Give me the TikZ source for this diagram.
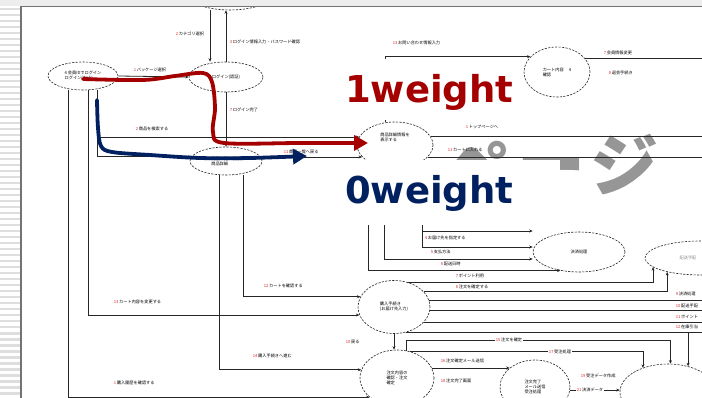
\documentclass[tikz,border=0pt]{standalone}
\usepackage{fontspec}
\usetikzlibrary{shapes.geometric,arrows.meta}
\newfontfamily\jp{Noto Sans CJK JP}
\newfontfamily\wtf{DejaVu Sans}
\definecolor{redc}{RGB}{165,0,0}
\definecolor{bluec}{RGB}{0,32,96}
\definecolor{numc}{RGB}{225,40,40}
\definecolor{wmc}{RGB}{150,150,150}
\newcommand{\nm}[1]{\textcolor{numc}{#1}\,}
\tikzset{
 ell/.style={ellipse, draw=black!85, dash pattern=on 2.2pt off 1.3pt, line width=0.6pt, fill=white, inner sep=0pt, font=\jp\fontsize{4.2}{5}\selectfont, align=left},
 ln/.style={draw=black!85, line width=0.8pt},
 ar/.style={ln, -{Stealth[length=3.5pt,width=3pt]}},
 lbl/.style={anchor=west, inner sep=0.6pt, font=\jp\fontsize{4.2}{5}\selectfont},
 lblw/.style={lbl, fill=white},
 heavy/.style={line width=3.8pt, line cap=round, line join=round},
 bigtip/.style={-{Triangle[length=14pt,width=15pt]}},
 wt/.style={anchor=base west, inner sep=0pt, font=\wtf\bfseries\fontsize{37}{40}\selectfont},
 wm/.style={anchor=base west, inner sep=0pt, text=wmc, font=\jp\bfseries\fontsize{68}{70}\selectfont},
}
\begin{document}
\begin{tikzpicture}[x=1pt,y=-1pt]
\useasboundingbox (0,0) rectangle (702,398);
\fill[white] (0,0) rectangle (702,398);
\fill[black!7] (0,0) rectangle (702,6);
\foreach \k in {0,...,65} { \fill[black!13] (0,{8+6*\k}) rectangle (20,{10.5+6*\k}); }
% watermark
\node[wm] (wm1) at (443,193) {ペ};
\node[wm] (wm2) at (517,191) {ー};
\node[wm] (wm3) at (590,191) {ジ};
\begin{scope}
\clip (22,7.5) rectangle (702,398);
% ellipses
\node[ell, minimum width=90pt, minimum height=36pt] (E0) at (230,-8) {};
\node[ell, minimum width=70pt, minimum height=28pt] (E1) at (83,76) {4 会員IDでログイン\\ログイン(Web)};
\node[ell, minimum width=74pt, minimum height=30pt] (E2) at (226,77) {ログイン(認証)};
\node[ell, minimum width=72pt, minimum height=28pt] (E4) at (226,161) {商品一覧・検索\\商品詳細};
\node[ell, minimum width=76pt, minimum height=46pt] (E5) at (395,145) {商品詳細情報を\\表示する\\[10pt]};
\node[ell, minimum width=66pt, minimum height=50pt] (E6) at (557,72) {カート内容 \quad 4\\確認};
\node[ell, minimum width=72pt, minimum height=53pt] (E7) at (394,307) {購入手続き\\(お届け先入力)};
\node[ell, minimum width=74pt, minimum height=56pt] (E8) at (397,378) {注文内容の\\確認・注文\\確定};
\node[ell, minimum width=110pt, minimum height=34pt, text=black!45] (E9) at (700,258) {配送手配\hspace*{24pt}};
\node[ell, minimum width=92pt, minimum height=40pt] (E10) at (579,252) {決済処理};
\node[ell, minimum width=70pt, minimum height=54pt] (E11) at (535,387) {注文完了\\メール送信\\受注処理};
\node[ell, minimum width=96pt, minimum height=56pt] (E12) at (668,392) {};
% free ends
\coordinate (R59) at (702,59);
\coordinate (R137) at (702,137);
\coordinate (R157) at (702,157);
\coordinate (R300) at (702,300);
\coordinate (R311) at (702,311);
\coordinate (R322) at (702,322);
\coordinate (R332) at (702,332);
\coordinate (J137) at (97,137);
% connectors
\draw[ar] (E0.south -| 210,0) -- (E2.north -| 210,0);
\draw[ar] (E2.north) -- (E0.south -| E2.north);
\draw[ar] (E1.east) -- (E2.west);
\draw[ar] (E2.south) -- (E4.north);
\draw[ar] (E1.south -| 97,0) |- (E4.173);
\draw[ar] (J137) -- (J137 -| E5.167);
\draw[ar] (E4.east |- E5.200) -- (E5.200);
\draw[ln] (E5.13) -- (E5.13 -| R137);
\draw[ln] (E5.340) -- (E5.340 -| R157);
\draw[ar] (E5.north -| 385,0) |- (E6.150);
\draw[ln] (E6.25) -- (E6.25 -| R59);
\draw[ar] (E5.south -| 422,0) |- (E10.west |- 0,231);
\draw[ar] (422,231) |- (E10.west |- 0,247);
\draw[ar] (E5.south -| 384,0) |- (E10.west |- 0,259);
\draw[ar] (E5.south -| 368,0) |- (E10.225);
\draw[ar] (E7.60) -| (E9.191);
\draw[ar] (E7.27) -| (E9.203);
\draw[ln] (E7.11) -- (E7.11 -| R300);
\draw[ln] (E7.354) -- (E7.354 -| R311);
\draw[ln] (E7.333) -- (E7.333 -| R322);
\draw[ln] (E7.296) -- (E7.296 -| R332);
\draw[ar] (E12.52 |- R332) -- (E12.52);
\draw[ar] (E4.south -| 243,0) |- (E7.163);
\draw[ar] (E4.south -| 219,0) |- (E8.167);
\draw[ar] (E1.south -| 88,0) |- (E7.193);
\draw[ar] (E1.south -| 68,0) |- (E8.215);
\draw[ar] (E7.south) -- (E7.south |- E8.north);
\draw[ar] (E8.72) -- (E8.72 |- 0,340) -| (E12.85);
\draw[ar] (E8.63) -| (E12.136);
\draw[ar] (E8.16) -- (E8.16 -| E11.143);
\draw[ar] (E11.355) -- (E11.355 -| E12.178);
% labels
\node[lbl] (l1) at (175,34) {\nm{2}カテゴリ選択};
\node[lbl] (l2) at (229,42) {\nm{3}ログイン情報入力・パスワード確認};
\node[lbl] (l3) at (133,70) {\nm{1}パッケージ選択};
\node[lbl] (l4) at (135,129) {\nm{2}商品を検索する};
\node[lbl] (l5) at (229,110) {\nm{7}ログイン完了};
\node[lbl] (l6) at (283,152) {\nm{11}商品一覧へ戻る};
\node[lbl] (l7) at (392,43) {\nm{13}お問い合わせ情報入力};
\node[lbl] (l8) at (603,53) {\nm{7}会員情報変更};
\node[lbl] (l9) at (608,73) {\nm{8}退会手続き};
\node[lbl] (l10) at (465,127) {\nm{1}トップページへ};
\node[lbl] (l11) at (447,150) {\nm{11}カートに入れる};
\node[lbl] (l12) at (263,286) {\nm{12}カートを確認する};
\node[lbl] (l13) at (252,356) {\nm{14}購入手続きへ進む};
\node[lbl] (l14) at (113,302) {\nm{13}カート内容を変更する};
\node[lbl] (l15) at (113,383) {\nm{1}購入履歴を確認する};
\node[lbl] (l16) at (424,238) {\nm{4}お届け先を指定する};
\node[lbl] (l17) at (430,252) {\nm{5}支払方法};
\node[lbl] (l18) at (440,264) {\nm{6}配送日時};
\node[lbl] (l19) at (455,276) {\nm{7}ポイント利用};
\node[lbl] (l20) at (455,287) {\nm{8}注文を確定する};
\node[lbl] (l21) at (675,294) {\nm{9}決済処理};
\node[lbl] (l22) at (675,306) {\nm{10}配送手配};
\node[lbl] (l23) at (675,317) {\nm{11}ポイント};
\node[lbl] (l24) at (675,327) {\nm{12}在庫引当};
\node[lbl] (l25) at (345,342) {\nm{10}戻る};
\node[lblw] (l26) at (495,340) {\nm{15}注文を確定};
\node[lblw] (l27) at (548,352) {\nm{17}受注処理};
\node[lbl] (l28) at (440,361) {\nm{16}注文確定メール送信};
\node[lbl] (l29) at (440,381) {\nm{18}注文完了画面};
\node[lbl] (l30) at (580,376) {\nm{19}受注データ作成};
\node[lblw] (l31) at (576,390) {\nm{21}決済データ};
\end{scope}
\draw[black!55, line width=1.4pt] (21,398) -- (21,6.5) -- (702,6.5);
% cover boxes of the overlay labels
\fill[white] (338,59) rectangle (520,120);
\fill[white] (340,160) rectangle (560,225);
% weight paths
\draw[heavy, redc, bigtip] plot[smooth, tension=0.55] coordinates {(83,79) (143,80) (175,76) (203,73) (212,82) (215,108) (213,132) (224,143) (300,143) (368,143)};
\draw[heavy, bluec, bigtip] plot[smooth, tension=0.55] coordinates {(97,100) (98,128) (101,146) (112,152) (150,155) (200,158) (250,158) (307,156)};
\node[wt, text=redc] (w1) at (345,103) {1weight};
\node[wt, text=bluec] (w0) at (345,204) {0weight};
\end{tikzpicture}
\end{document}
